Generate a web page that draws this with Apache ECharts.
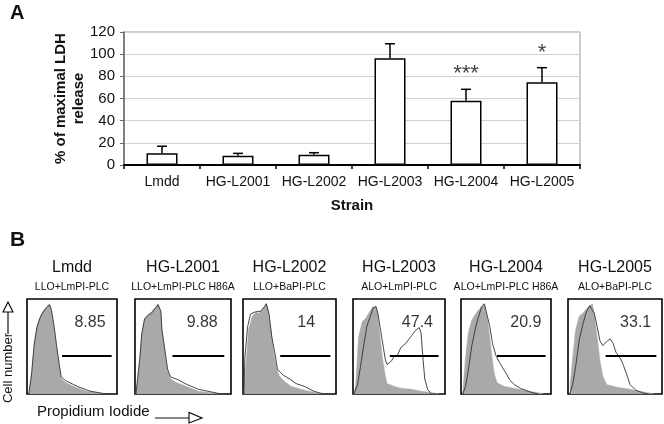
<!DOCTYPE html>
<html><head><meta charset="utf-8">
<script src="https://cdn.jsdelivr.net/npm/echarts@6/dist/echarts.min.js"></script>
<style>html,body{margin:0;padding:0;background:#fff;overflow:hidden}#c{width:664px;height:424px}</style>
</head><body><div id="c"></div>
<script>
// ---------- Panel A data ----------
const categories = ['Lmdd','HG-L2001','HG-L2002','HG-L2003','HG-L2004','HG-L2005'];
const ldhMean    = [10.5, 8.4, 9.3, 96.3, 58, 74.6];
const ldhErrTop  = [16.9, 10.5, 11.1, 109.4, 68.3, 87.8];
const significance = ['', '', '', '', '***', '*'];
const yMax = 120, yStep = 20;

// ---------- Panel B data ----------
const panelStrains = ['Lmdd','HG-L2001','HG-L2002','HG-L2003','HG-L2004','HG-L2005'];
const panelConstructs = ['LLO+LmPI-PLC','LLO+LmPI-PLC H86A','LLO+BaPI-PLC','ALO+LmPI-PLC','ALO+LmPI-PLC H86A','ALO+BaPI-PLC'];
const gatePercent = ['8.85','9.88','14','47.4','20.9','33.1'];
const gateRange = [[39,94],[39,93],[40,94],[40,93],[40,94],[40,94]];
const gateLevel = [40,40,40,40,40,40];
const labelPos = [[70,75],[70,75],[68,75],[70,75],[72,75],[72,75]];

const control1 = [[2,0],[5,21],[8,53],[11,71],[14,80],[17,86],[21,91],[25,95],[27,89],[30,71],[33,49],[36,28],[38,16],[43,12],[52,8],[66,3],[81,1],[88,0]];
const sample1  = [[2,0],[5,20],[8,52],[11,70],[14,79],[17,85],[21,90],[25,94],[27,89],[30,72],[33,50],[36,30],[38,18],[43,14],[56,8],[70,3],[85,0.5],[90,0]];
const control2 = [[1,0],[5,38],[7,64],[10,80],[14,84],[17,86],[21,91],[24,95],[27,87],[28,68],[31,46],[34,24],[37,16],[43,12],[56,7],[66,3],[86,0.4],[90,0]];
const sample2  = [[1,0],[5,37],[7,63],[10,79],[14,83],[17,85],[21,90],[24,94],[27,87],[28,68],[31,47],[34,26],[37,18],[45,15],[52,11],[66,5],[85,1],[90,0]];
const control3 = [[1,0],[3,28],[6,68],[10,82],[14,86],[17,85],[21,89],[25,95],[27,89],[30,67],[33,44],[36,28],[39,19],[45,13],[52,8],[66,4],[81,1],[88,0]];
const sample3  = [[1,0],[2,38],[5,71],[8,84],[12,86],[16,87],[19,87],[23,92],[25,95],[28,84],[31,60],[35,39],[37,26],[43,20],[50,16],[57,11],[66,8],[76,3],[83,1],[88,0]];
const control4 = [[1,0],[3,10],[6,60],[10,76],[14,80],[17,85],[21,91],[25,92],[27,84],[29,64],[32,38],[35,20],[37,11],[45,8],[52,6],[63,5],[74,3],[88,1],[94,0]];
const sample4  = [[1,0],[5,10],[8,28],[12,53],[15,71],[19,82],[22,91],[25,92],[27,85],[30,67],[33,49],[35,37],[37,31],[39,33],[42,35],[45,40],[48,40],[52,49],[57,53],[61,58],[65,63],[68,67],[70,65],[72,70],[74,64],[76,38],[78,16],[81,5],[85,0],[90,0]];
const control5 = [[2,2],[5,38],[8,64],[12,78],[16,84],[19,88],[23,92],[26,94],[28,86],[31,68],[34,42],[37,21],[40,12],[48,8],[59,6],[70,4],[85,1.4],[92,0]];
const sample5  = [[2,0],[5,8],[8,24],[12,51],[16,69],[19,80],[23,92],[26,95],[28,87],[32,71],[35,53],[39,40],[43,33],[46,28],[50,22],[54,15],[59,10],[66,6],[77,2],[86,0]];
const control6 = [[2,6],[5,38],[8,67],[12,82],[16,85],[19,89],[23,93],[26,95],[28,84],[31,60],[34,35],[37,19],[41,10],[52,7],[66,5],[81,2],[92,0]];
const sample6  = [[2,0],[5,10],[8,28],[12,57],[16,74],[19,85],[23,93],[25,95],[28,85],[31,71],[34,56],[37,51],[39,53],[42,56],[45,58],[48,53],[51,44],[56,37],[59,30],[63,19],[66,10],[72,4],[81,0.7],[86,0]];
const controls = [control1,control2,control3,control4,control5,control6];
const samples  = [sample1,sample2,sample3,sample4,sample5,sample6];

// ---------- Layout (px) ----------
const FONT = '"Liberation Sans", Arial, sans-serif';
const panelBoxes = [[27,90],[135,96],[243,93],[353,92],[461,90],[568,94]];
const panelTop = 299, panelH = 95;

const chart = echarts.init(document.getElementById('c'), null, {renderer:'canvas'});

const grids = [{left:124, top:32, width:456, height:133, show:true, borderColor:'#999', borderWidth:1, containLabel:false}];
const xAxes = [{
  type:'category', data:categories, gridIndex:0,
  axisLine:{lineStyle:{color:'#000', width:2}},
  axisTick:{show:true, alignWithLabel:false, length:4, lineStyle:{color:'#000', width:1.5}},
  axisLabel:{interval:0, color:'#111', fontSize:14, fontFamily:FONT, margin:10},
  name:'Strain', nameLocation:'middle', nameGap:33, nameMoveOverlap:false,
  nameTextStyle:{fontWeight:'bold', fontSize:15, fontFamily:FONT, color:'#111'}
}];
const yAxes = [{
  type:'value', gridIndex:0, min:0, max:yMax, interval:yStep,
  axisLine:{show:true, lineStyle:{color:'#666', width:1.5}},
  axisTick:{show:true, length:4, lineStyle:{color:'#666'}},
  axisLabel:{color:'#111', fontSize:15, fontFamily:FONT, margin:9},
  splitLine:{lineStyle:{color:'#d0d0d0', width:1}},
  name:'% of maximal LDH\nrelease', nameLocation:'middle', nameGap:36, nameRotate:90, nameMoveOverlap:false,
  nameTextStyle:{fontWeight:'bold', fontSize:15, fontFamily:FONT, color:'#111', lineHeight:18}
}];
const series = [
  {type:'bar', xAxisIndex:0, yAxisIndex:0, data:ldhMean, barWidth:31,
   itemStyle:{color:'#fff', borderColor:'#000', borderWidth:1.5}, z:3, silent:true},
  {type:'custom', xAxisIndex:0, yAxisIndex:0, z:4,
   data: categories.map((c,i)=>[i, ldhMean[i], ldhErrTop[i]]),
   renderItem:function(params, api){
     const base = api.coord([api.value(0), api.value(1)]);
     const top = api.coord([api.value(0), api.value(2)]);
     const half = 5;
     return {type:'group', children:[
       {type:'line', shape:{x1:base[0], y1:base[1], x2:top[0], y2:top[1]}, style:{stroke:'#000', lineWidth:1.5}},
       {type:'line', shape:{x1:top[0]-half, y1:top[1], x2:top[0]+half, y2:top[1]}, style:{stroke:'#000', lineWidth:1.5}}
     ]};
   }},
  {type:'scatter', xAxisIndex:0, yAxisIndex:0, symbolSize:0, z:5,
   data: categories.map((c,i)=>({value:[i, ldhErrTop[i]], label:{show:significance[i]!=='', formatter:significance[i]}})),
   label:{position:'top', distance:4, fontSize:22, fontFamily:FONT, color:'#111'}}
];

panelBoxes.forEach((b,i)=>{
  const gi = i+1;
  grids.push({left:b[0], top:panelTop, width:b[1], height:panelH, show:true, borderColor:'#000', borderWidth:1.6});
  xAxes.push({type:'value', gridIndex:gi, min:0, max:100, show:false});
  yAxes.push({type:'value', gridIndex:gi, min:0, max:100, show:false});
  series.push({type:'line', xAxisIndex:gi, yAxisIndex:gi, data:controls[i], symbol:'none', smooth:false,
    lineStyle:{color:'#a9a9a9', width:0.5}, areaStyle:{color:'#a9a9a9', opacity:1}, z:2, silent:true});
  series.push({type:'line', xAxisIndex:gi, yAxisIndex:gi, data:samples[i], symbol:'none', smooth:false,
    lineStyle:{color:'#333', width:0.9}, z:3, silent:true});
  series.push({type:'line', xAxisIndex:gi, yAxisIndex:gi,
    data:[[gateRange[i][0], gateLevel[i]],[gateRange[i][1], gateLevel[i]]], symbol:'none',
    lineStyle:{color:'#000', width:2.2}, z:4, silent:true});
  series.push({type:'scatter', xAxisIndex:gi, yAxisIndex:gi, symbolSize:0, z:5,
    data:[{value:labelPos[i], label:{show:true, formatter:gatePercent[i]}}],
    label:{position:'inside', fontSize:16, fontFamily:FONT, color:'#000'}});
});

function txt(x, y, text, font, align, extra){
  return Object.assign({type:'text', x:x, y:y, style:{text:text, font:font, fill:'#111',
    align:align, verticalAlign:'middle', textAlign:align, textVerticalAlign:'middle'}}, extra||{});
}
const graphics = [
  txt(10, 13, 'A', 'bold 20px '+FONT, 'left'),
  txt(10, 240, 'B', 'bold 21px '+FONT, 'left')
];
panelBoxes.forEach((b,i)=>{
  const cx = b[0] + b[1]/2;
  graphics.push(txt(cx, 268, panelStrains[i], '16px '+FONT, 'center'));
  graphics.push(txt(cx, 287, panelConstructs[i], '10.5px '+FONT, 'center'));
});
graphics.push(
  txt(8, 368, 'Cell number', '13px '+FONT, 'center', {rotation:Math.PI/2}),
  {type:'line', shape:{x1:8, y1:334, x2:8, y2:312}, style:{stroke:'#111', lineWidth:1.2}},
  {type:'polygon', shape:{points:[[3,312],[13,312],[8,302]]}, style:{fill:'#fff', stroke:'#111', lineWidth:1.2}},
  txt(37, 412, 'Propidium Iodide', '15px '+FONT, 'left'),
  {type:'line', shape:{x1:155, y1:418, x2:189, y2:418}, style:{stroke:'#111', lineWidth:1.2}},
  {type:'polygon', shape:{points:[[189,412.5],[189,423],[202,418]]}, style:{fill:'#fff', stroke:'#111', lineWidth:1.2}}
);

chart.setOption({
  animation:false, backgroundColor:'#fff',
  grid:grids, xAxis:xAxes, yAxis:yAxes, series:series, graphic:graphics
});
</script></body></html>
